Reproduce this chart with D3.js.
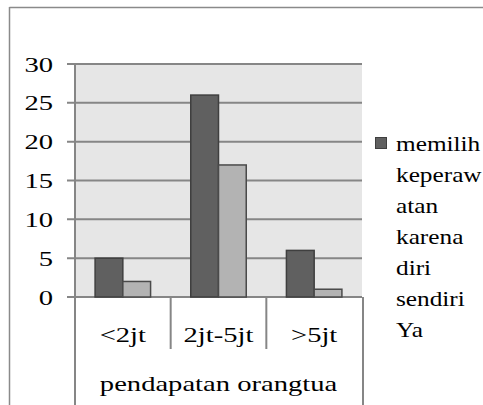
<!DOCTYPE html>
<html>
<head>
<meta charset="utf-8">
<script src="https://cdn.jsdelivr.net/npm/d3@7"></script>
<style>
  body { margin: 0; background: #fff; }
</style>
</head>
<body>
<div id="chart"></div>
<script>
// data
const categories = ['<2jt', '2jt-5jt', '>5jt'];
const seriesYa = [5, 26, 6];
const seriesTidak = [2, 17, 1];
const yTicks = [0, 5, 10, 15, 20, 25, 30];
const axisTitle = 'pendapatan orangtua';
const legendLines = ['memilih', 'keperaw', 'atan', 'karena', 'diri', 'sendiri', 'Ya'];

const width = 483;
const height = 405;
const plot = { left: 75, right: 362, top: 64, bottom: 297 };
const fontSize = 22;
const fontFamily = "'Liberation Serif', Tinos, 'Times New Roman', Times, 'DejaVu Serif', serif";
const stretch = 1.3; // the original picture is stretched sideways

const svg = d3.select('#chart')
  .append('svg')
  .attr('width', width)
  .attr('height', height);

const x = d3.scaleBand()
  .domain(categories)
  .range([plot.left, plot.right])
  .padding(0);

const inner = d3.scaleBand()
  .domain([0, 1])
  .range([x.bandwidth() * 0.21, x.bandwidth() * 0.79])
  .padding(0);

const y = d3.scaleLinear()
  .domain([0, 30])
  .range([plot.bottom, plot.top]);

function stretchedText(g, tx, ty, anchor, str, sx) {
  return g.append('text')
    .attr('transform', `translate(${tx},${ty}) scale(${sx || stretch},1)`)
    .attr('text-anchor', anchor)
    .attr('font-family', fontFamily)
    .attr('font-size', fontSize)
    .attr('fill', '#000')
    .text(str);
}

// outer frame (only top and left visible)
svg.append('line')
  .attr('x1', 9.5).attr('x2', width)
  .attr('y1', 7.5).attr('y2', 7.5)
  .attr('stroke', '#8a8a8a').attr('stroke-width', 1.5);
svg.append('line')
  .attr('x1', 9.5).attr('x2', 9.5)
  .attr('y1', 7).attr('y2', height)
  .attr('stroke', '#8a8a8a').attr('stroke-width', 1.5);

// plot background
svg.append('rect')
  .attr('x', plot.left)
  .attr('y', y(30))
  .attr('width', plot.right - plot.left)
  .attr('height', y(0) - y(30))
  .attr('fill', '#e6e6e6');

// gridlines + ticks
svg.append('g')
  .selectAll('line')
  .data(yTicks)
  .join('line')
  .attr('x1', plot.left - 8)
  .attr('x2', plot.right)
  .attr('y1', d => y(d))
  .attr('y2', d => y(d))
  .attr('stroke', '#868686')
  .attr('stroke-width', 2);

// y labels
const yl = svg.append('g');
yTicks.forEach(t => {
  stretchedText(yl, 53, y(t) + 7.5, 'end', t);
});

// bars
const barData = [];
categories.forEach((c, i) => {
  barData.push({ cat: c, s: 0, v: seriesYa[i] });
  barData.push({ cat: c, s: 1, v: seriesTidak[i] });
});

svg.append('g')
  .selectAll('rect')
  .data(barData)
  .join('rect')
  .attr('x', d => x(d.cat) + inner(d.s))
  .attr('y', d => y(d.v))
  .attr('width', inner.bandwidth())
  .attr('height', d => y(0) - y(d.v))
  .attr('fill', d => d.s === 0 ? '#606060' : '#b3b3b3')
  .attr('stroke', d => d.s === 0 ? '#3f3f3f' : '#4a4a4a')
  .attr('stroke-width', 1.5);

// axis lines
svg.append('line')
  .attr('x1', plot.left).attr('x2', plot.left)
  .attr('y1', y(30)).attr('y2', height)
  .attr('stroke', '#868686').attr('stroke-width', 2);
svg.append('line')
  .attr('x1', plot.right + 1).attr('x2', plot.right + 1)
  .attr('y1', y(0)).attr('y2', height)
  .attr('stroke', '#868686').attr('stroke-width', 2);

// category dividers
svg.append('g')
  .selectAll('line')
  .data(categories.slice(1))
  .join('line')
  .attr('x1', d => x(d))
  .attr('x2', d => x(d))
  .attr('y1', y(0))
  .attr('y2', 349)
  .attr('stroke', '#868686')
  .attr('stroke-width', 2);

// category labels
const xl = svg.append('g');
categories.forEach(c => {
  stretchedText(xl, x(c) + x.bandwidth() / 2, 342, 'middle', c);
});
stretchedText(xl, (plot.left + plot.right) / 2, 391, 'middle', axisTitle);

// legend
const lg = svg.append('g');
lg.append('rect')
  .attr('x', 375.5).attr('y', 137.5)
  .attr('width', 11).attr('height', 11)
  .attr('fill', '#606060')
  .attr('stroke', '#3f3f3f')
  .attr('stroke-width', 1);
legendLines.forEach((l, i) => {
  stretchedText(lg, 396, 151 + i * 31, 'start', l, 1.15);
});
</script>
</body>
</html>
